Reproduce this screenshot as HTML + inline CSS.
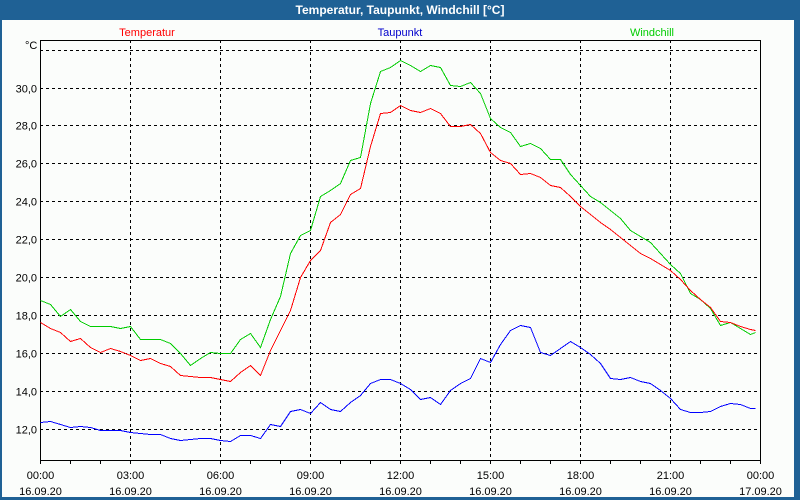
<!DOCTYPE html>
<html><head><meta charset="utf-8"><style>
body{margin:0;width:800px;height:500px;overflow:hidden;background:#1f6195;font-family:"Liberation Sans",sans-serif}
#frame{position:absolute;left:2px;top:20px;width:792px;height:477px;background:#fbfdfb}
#title{position:absolute;left:0;top:0;width:800px;height:20px;line-height:20px;text-align:center;color:#fff;font-weight:bold;font-size:12px}
svg{position:absolute;left:0;top:0}
svg text{font-family:"Liberation Sans",sans-serif;font-size:11px}
</style></head><body>
<div id="title">Temperatur, Taupunkt, Windchill [°C]</div>
<div id="frame"></div>
<svg id="chart" width="800" height="500"></svg>
<script>
const yTicks=[12,14,16,18,20,22,24,26,28,30,32];
const yTickLabels=["12,0","14,0","16,0","18,0","20,0","22,0","24,0","26,0","28,0","30,0",""];
const xTickHours=[0,3,6,9,12,15,18,21,24];
const xTickTimes=["00:00","03:00","06:00","09:00","12:00","15:00","18:00","21:00","00:00"];
const xTickDates=["16.09.20","16.09.20","16.09.20","16.09.20","16.09.20","16.09.20","16.09.20","16.09.20","17.09.20"];
const temperatur=[17.6,17.3,17.1,16.6,16.8,16.3,16.05,16.25,16.1,15.9,15.6,15.7,15.45,15.3,14.8,14.75,14.7,14.7,14.6,14.5,15.0,15.35,14.8,16.15,17.2,18.25,20.0,20.9,21.4,22.9,23.35,24.4,24.7,26.9,28.65,28.7,29.1,28.8,28.7,28.9,28.65,27.95,27.95,28.1,27.6,26.6,26.15,26.0,25.45,25.5,25.3,24.85,24.75,24.3,23.75,23.35,22.9,22.55,22.1,21.7,21.25,21.0,20.7,20.35,19.9,19.3,18.85,18.4,17.7,17.6,17.4,17.25,17.2];
const windchill=[18.8,18.55,17.95,18.3,17.7,17.4,17.4,17.4,17.3,17.4,16.7,16.7,16.7,16.5,16.0,15.35,15.7,16.05,16.0,16.0,16.7,17.05,16.3,17.8,19.0,21.25,22.2,22.5,24.25,24.6,24.95,26.2,26.35,29.2,30.85,31.1,31.45,31.2,30.85,31.2,31.1,30.15,30.1,30.3,29.7,28.4,27.9,27.65,26.9,27.05,26.8,26.25,26.25,25.45,24.85,24.25,23.95,23.55,23.1,22.5,22.15,21.85,21.25,20.7,20.2,19.15,18.85,18.35,17.45,17.6,17.3,17.0,17.1];
const taupunkt=[12.35,12.4,12.25,12.1,12.15,12.1,11.9,11.9,11.9,11.8,11.75,11.7,11.7,11.5,11.4,11.45,11.5,11.5,11.4,11.35,11.65,11.65,11.5,12.25,12.15,12.9,13.05,12.8,13.4,13.05,12.9,13.4,13.75,14.4,14.6,14.6,14.4,14.1,13.55,13.65,13.3,14.05,14.4,14.65,15.7,15.5,16.45,17.2,17.45,17.35,16.05,15.9,16.25,16.6,16.3,15.95,15.45,14.65,14.6,14.7,14.5,14.4,14.05,13.6,13.05,12.85,12.85,12.95,13.2,13.35,13.3,13.1,13.1];
const seriesTimes=temperatur.map((_,i)=>i<72?i/3:23.83);

const L=40,R=760,T=40,B=460;
const xS=h=>L+(R-L)*h/24;
const yS=v=>428.5-(v-12)*18.94;
const NS='http://www.w3.org/2000/svg';
const svg=document.getElementById('chart');
function mk(tag,attrs,parent){const e=document.createElementNS(NS,tag);for(const k in attrs)e.setAttribute(k,attrs[k]);(parent||svg).appendChild(e);return e;}

const grid=mk('g',{});


yTicks.forEach((v,i)=>{
  const y=Math.round(yS(v))+0.5;
  const ln=mk('line',{x1:L,x2:R,y1:y,y2:y,stroke:'#000','stroke-dasharray':'3,3'},grid);
  
  
  const t=mk('text',{x:37,y:y+4,'text-anchor':'end',fill:'#000'});
  t.textContent=yTickLabels[i];
  
  
});
xTickHours.forEach((h,i)=>{
  const x=Math.round(xS(h))+0.5;
  if(h>0&&h<24){const ln=mk('line',{x1:x,x2:x,y1:T,y2:B,stroke:'#000','stroke-dasharray':'3,3'},grid);
  
  }
  const t1=mk('text',{x:x,y:479,'text-anchor':'middle',fill:'#000'});
  t1.textContent=xTickTimes[i];
  
  
  const t2=mk('text',{x:x,y:495,'text-anchor':'middle',fill:'#000'});
  t2.textContent=xTickDates[i];
  
  
});
for(let h=0;h<=24;h++){
  const x=Math.round(xS(h))+0.5;
  const tk=mk('line',{x1:x,x2:x,y1:B,y2:B+4,stroke:'#000'});
  
  
}
const box=mk('rect',{x:L+0.5,y:T+0.5,width:R-L,height:B-T,fill:'none',stroke:'#000'});


const unit=mk('text',{x:25,y:49,fill:'#000'});
unit.textContent='°C';



function line(data,color,name){
  const pts=data.map((v,i)=>(Math.round(xS(seriesTimes[i]))+0.5)+','+(Math.round(yS(v))+0.5)).join(' ');
  const p=mk('polyline',{points:pts,fill:'none',stroke:color,'stroke-width':1,'shape-rendering':'crispEdges'});
  
  
}
line(taupunkt,'#0000ff','taupunkt-line');
line(windchill,'#00cc00','windchill-line');
line(temperatur,'#ff0000','temperatur-line');

[['Temperatur','#ff0000',147],['Taupunkt','#0000cc',400],['Windchill','#00cc00',652]].forEach(([n,c,x])=>{
  const t=mk('text',{x:x,y:36,'text-anchor':'middle',fill:c});
  t.textContent=n;
  
  
});
</script>
</body></html>
